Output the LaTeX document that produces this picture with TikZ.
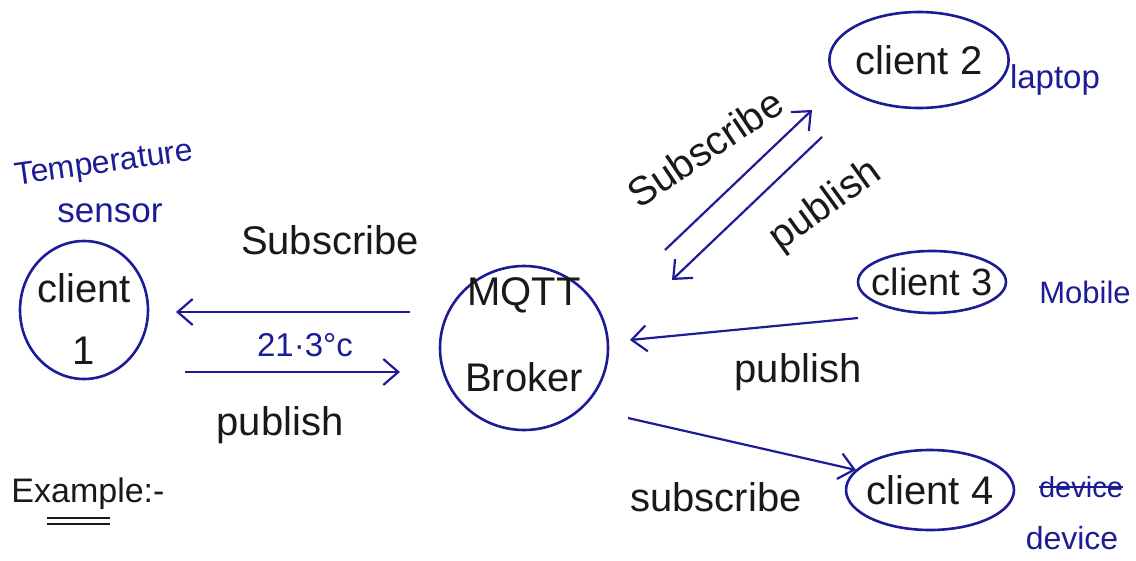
\documentclass[tikz,border=0pt]{standalone}
\usepackage{fontspec}
\setmainfont{Liberation Sans}
\usetikzlibrary{arrows.meta,shapes.geometric}
\definecolor{ink}{RGB}{28,28,150}
\definecolor{pencil}{RGB}{25,25,25}
\tikzset{
  bubble/.style={ellipse,draw=ink,line width=2.6pt,inner sep=0pt,text=pencil},
  flow/.style={draw=ink,line width=2.2pt,-{Straight Barb[length=15pt,width=26pt,line width=2.2pt]}},
  blk/.style={text=pencil,font=\fontsize{40}{44}\selectfont,inner sep=0pt},
  blu/.style={text=ink,font=\fontsize{33}{36}\selectfont,inner sep=0pt},
}
\begin{document}
\begin{tikzpicture}[x=1pt,y=-1pt]
\useasboundingbox (0,0) rectangle (1136,560);
% nodes
\node[bubble,minimum width=128pt,minimum height=138pt,inner sep=-10pt,font=\fontsize{40}{44}\selectfont] (c1) at (84,310)
  {\raisebox{-21pt}[0pt][0pt]{\begin{tabular}{@{}c@{}}client\\[18pt]1\end{tabular}}};
\node[bubble,minimum width=168pt,minimum height=164pt,inner sep=-10pt,font=\fontsize{40}{44}\selectfont] (mq) at (524,348)
  {\raisebox{2pt}[0pt][0pt]{\begin{tabular}{@{}c@{}}MQTT\\[42pt]Broker\end{tabular}}};
\node[bubble,minimum width=145pt,minimum height=96pt,font=\fontsize{40}{44}\selectfont] (c2) at (919,60) {client 2};
\node[bubble,minimum width=148pt,minimum height=62pt,inner sep=-12pt,font=\fontsize{38}{42}\selectfont] (c3) at (932,282) {client 3};
\node[bubble,minimum width=162pt,minimum height=80pt,inner sep=-4pt,font=\fontsize{40}{44}\selectfont] (c4) at (930,490) {client 4};
% blue labels
\node[blu,font=\fontsize{32}{36}\selectfont,rotate=8] (temp) at (104,165) {Temperature};
\node[blu,font=\fontsize{35}{38}\selectfont] (sens) at (110,213) {sensor};
\node[blu] (lap) at (1055,80) {laptop};
\node[blu,font=\fontsize{31}{34}\selectfont] (mob) at (1085,292) {Mobile};
\node[blu,font=\fontsize{29}{32}\selectfont] (dv1) at (1081,487) {device};
\draw[ink,line width=2.4pt] (dv1.west) -- (dv1.east);
\node[blu,font=\fontsize{32}{36}\selectfont] (dv2) at (1072,538) {device};
\node[blu,font=\fontsize{33}{36}\selectfont] (temp2) at (305,345) {21·3°c};
% coordinates for arrows
\coordinate (s1a) at (410,312);
\coordinate (s1b) at (176,312);
\coordinate (p1a) at (185,372);
\coordinate (p1b) at (400,372);
\coordinate (s2a) at (665,250);
\coordinate (s2b) at (812,110);
\coordinate (p2a) at (822,137);
\coordinate (p2b) at (672,280);
\coordinate (p3a) at (858,318);
\coordinate (p3b) at (630,340);
\coordinate (s4a) at (628,418);
\coordinate (s4b) at (856,470);
\draw[flow] (s1a) -- (s1b);
\draw[flow] (p1a) -- (p1b);
\draw[flow] (s2a) -- (s2b);
\draw[flow] (p2a) -- (p2b);
\draw[flow] (p3a) -- (p3b);
\draw[flow] (s4a) -- (s4b);
% black labels
\node[blk] (l1) at (330,240) {Subscribe};
\node[blk] (l2) at (280,425) {publish};
\node[blk,rotate=34] (l3) at (705,148) {Subscribe};
\node[blk,rotate=36] (l4) at (826,206) {publish};
\node[blk] (l5) at (798,372) {publish};
\node[blk] (l6) at (716,497) {subscribe};
\node[blk,font=\fontsize{34}{38}\selectfont] (ex) at (88,494) {Example:-};
\draw[pencil,line width=2pt] ([xshift=36pt,yshift=-8pt]ex.south west) -- ([xshift=-55pt,yshift=-8pt]ex.south east);
\draw[pencil,line width=2pt] ([xshift=36pt,yshift=-14pt]ex.south west) -- ([xshift=-55pt,yshift=-14pt]ex.south east);
\end{tikzpicture}
\end{document}
